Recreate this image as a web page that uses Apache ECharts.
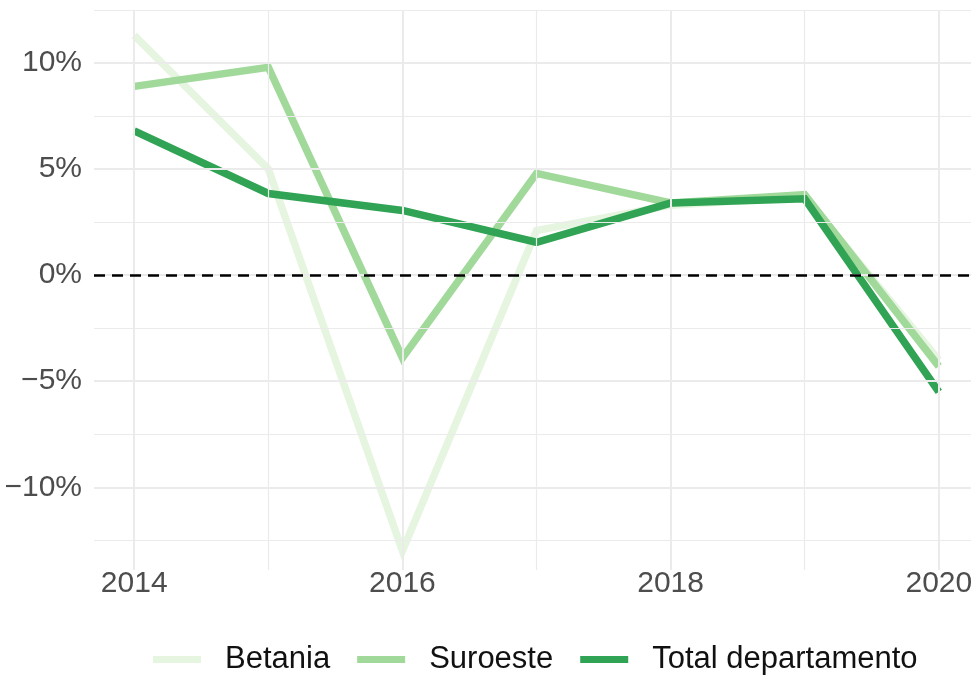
<!DOCTYPE html>
<html>
<head>
<meta charset="utf-8">
<script src="https://cdn.jsdelivr.net/npm/echarts@6/dist/echarts.min.js"></script>
<style>
    html, body { margin: 0; padding: 0; background: #fff; }
    #chart { width: 971px; height: 675px; }
</style>
</head>
<body>
<div id="chart"></div>
<script>

const years = [2014, 2015, 2016, 2017, 2018, 2019, 2020];

const betania = [11.3, 5.0, -13.0, 2.1, 3.3, 3.7, -4.0];
const suroeste = [8.9, 9.8, -3.9, 4.8, 3.4, 3.8, -4.3];
const totalDepartamento = [6.8, 3.85, 3.05, 1.55, 3.4, 3.6, -5.5];

const xLabelYears = [2014, 2016, 2018, 2020];
const yLabelValues = [-10, -5, 0, 5, 10];
const yMajorGrid = [-10, -5, 0, 5, 10];
const yMinorGrid = [-12.5, -7.5, -2.5, 2.5, 7.5, 12.5];
const xMajorGrid = [2014, 2016, 2018, 2020];
const xMinorGrid = [2015, 2017, 2019];

const gridColor = '#ebebeb';
const fontFamily = '"Liberation Sans", Arial, Helvetica, sans-serif';

const chart = echarts.init(document.getElementById('chart'));

const pairs = values => years.map((y, i) => [y, values[i]]);

const gridLine = (key, value, width) => ({
    [key]: value,
    lineStyle: { color: gridColor, width: width, type: 'solid' }
});

const lineSeries = (name, values, color) => ({
    name: name,
    type: 'line',
    data: pairs(values),
    z: 3,
    showSymbol: false,
    symbol: 'none',
    lineStyle: { width: 7.5, color: color, cap: 'butt', join: 'miter' },
    itemStyle: { color: color },
    emphasis: { disabled: true },
    animation: false
});

const option = {
    animation: false,
    grid: {
        left: 94,
        top: 10,
        right: 0,
        height: 560,
        outerBoundsMode: 'none',
        containLabel: false
    },
    xAxis: {
        type: 'value',
        min: 2013.7,
        max: 2020.24,
        axisLine: { show: false },
        axisTick: { show: false },
        splitLine: { show: false },
        axisLabel: {
            customValues: xLabelYears,
            formatter: v => String(v),
            color: '#4d4d4d',
            fontSize: 30,
            fontFamily: fontFamily,
            lineHeight: 30,
            margin: -1
        }
    },
    yAxis: {
        type: 'value',
        min: -13.9,
        max: 12.5,
        axisLine: { show: false },
        axisTick: { show: false },
        splitLine: { show: false },
        axisLabel: {
            customValues: yLabelValues,
            formatter: v => (v < 0 ? '\u2212' + Math.abs(v) : String(v)) + '%',
            color: '#4d4d4d',
            fontSize: 30,
            fontFamily: fontFamily,
            margin: 12
        }
    },
    legend: {
        left: 153,
        top: 644,
        padding: 0,
        itemWidth: 48,
        itemHeight: 7,
        itemGap: 27,
        icon: 'rect',
        selectedMode: false,
        textStyle: {
            color: '#111',
            fontSize: 31,
            fontFamily: fontFamily,
            lineHeight: 31,
            padding: [0, 0, 0, 19]
        },
        data: ['Betania', 'Suroeste', 'Total departamento']
    },
    series: [
        {
            name: 'grid',
            type: 'line',
            data: [],
            z: 1,
            silent: true,
            markLine: {
                silent: true,
                symbol: 'none',
                label: { show: false },
                animation: false,
                data: [
                    ...yMinorGrid.map(v => gridLine('yAxis', v, 1.2)),
                    ...xMinorGrid.map(v => gridLine('xAxis', v, 1.2)),
                    ...yMajorGrid.map(v => gridLine('yAxis', v, 2)),
                    ...xMajorGrid.map(v => gridLine('xAxis', v, 2))
                ]
            }
        },
        lineSeries('Betania', betania, '#e5f5e0'),
        lineSeries('Suroeste', suroeste, '#a1d99b'),
        lineSeries('Total departamento', totalDepartamento, '#31a354'),
        {
            name: 'zero',
            type: 'line',
            data: [],
            z: 5,
            silent: true,
            markLine: {
                silent: true,
                symbol: 'none',
                label: { show: false },
                animation: false,
                data: [
                    { yAxis: 0, lineStyle: { color: '#000', width: 2.5, type: [11, 7] } }
                ]
            }
        }
    ]
};

chart.setOption(option);

</script>
</body>
</html>
